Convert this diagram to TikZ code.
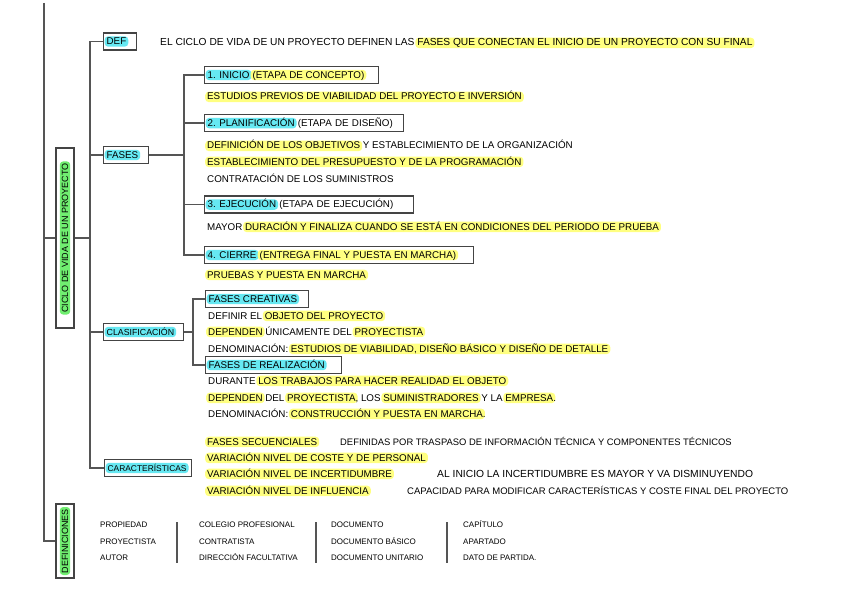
\documentclass[tikz,border=0pt]{standalone}
\usepackage{fontspec}
\setmainfont{Liberation Sans}
\definecolor{hy}{HTML}{FFFF80}
\definecolor{hc}{HTML}{66E8F2}
\definecolor{hg}{HTML}{70EE70}
\definecolor{boxc}{HTML}{444444}
\definecolor{linec}{HTML}{555555}
\newcommand\HiAny[2]{\kern-2pt\relax\tikz[baseline=(hh.base)]\node[fill=#1,draw=none,rounded corners=3.5pt,inner xsep=2pt,inner ysep=1.3pt,text width=,text height=7pt,text depth=0.8pt,minimum width=0pt,minimum height=0pt,anchor=base,outer sep=0pt](hh){#2};\kern-2pt\relax}
\newcommand\HiY[1]{\HiAny{hy}{#1}}
\newcommand\HiC[1]{\HiAny{hc}{#1}}
\newcommand\HiG[1]{\HiAny{hg}{#1}}
\newcommand\mainfs{\fontsize{9.8pt}{11pt}\selectfont}
\newcommand\vertfs{\fontsize{9pt}{11pt}\selectfont}
\tikzset{
  txt/.style={anchor=west, inner sep=0pt, text height=7pt, text depth=1pt, font=\mainfs},
  dtxt/.style={anchor=west, inner sep=0pt, text height=7pt, text depth=1pt, font=\fontsize{8pt}{10pt}\selectfont},
  box/.style={draw=boxc, line width=1.3pt, anchor=west, inner xsep=3pt, inner ysep=0pt, minimum height=17pt, align=left, font=\mainfs, text width=#1},
  vbox/.style={draw=boxc, line width=1.3pt, inner sep=0pt, minimum width=18pt, font=\vertfs, minimum height=#1},
  link/.style={draw=linec, line width=1.2pt},
  sep/.style={draw=linec, line width=1.2pt},
}
\begin{document}
\begin{tikzpicture}[x=1pt,y=-1pt]
\useasboundingbox (0,0) rectangle (848,599);
\fill[white] (0,0) rectangle (848,599);

% trunk coordinates
\coordinate (t1) at (44,3);
\coordinate (t2) at (90,0);
\coordinate (t3) at (184,0);
\coordinate (t4) at (193,0);

% vertical boxes
\node[vbox=180pt] (root) at (65,238) {\rotatebox{90}{\HiG{CICLO DE VIDA DE UN PROYECTO}}};
\node[vbox=74pt] (defs) at (65,541) {\rotatebox{90}{\HiG{DEFINICIONES}}};

% level 2 boxes
\node[box=27pt] (def) at (103,41.5) {\mbox{\HiC{DEF}}};
\node[box=39pt] (fases) at (103,155) {\mbox{\HiC{FASES}}};
\node[box=74pt, font=\fontsize{8.8pt}{11pt}\selectfont] (clas) at (103,332) {\mbox{\HiC{CLASIFICACIÓN}}};
\node[box=81pt, font=\fontsize{8.4pt}{11pt}\selectfont] (car) at (104,468) {\mbox{\HiC{CARACTERÍSTICAS}}};

% phases
\node[box=168pt] (ini) at (204,75) {\mbox{\HiC{1. INICIO} \HiY{(ETAPA DE CONCEPTO)}}};
\node[box=193pt] (pla) at (204,123) {\mbox{\HiC{2. PLANIFICACIÓN} (ETAPA DE DISEÑO)}};
\node[box=203pt] (eje) at (204,204.5) {\mbox{\HiC{3. EJECUCIÓN} (ETAPA DE EJECUCIÓN)}};
\node[box=263pt] (cie) at (204,255) {\mbox{\HiC{4. CIERRE} \HiY{(ENTREGA FINAL Y PUESTA EN MARCHA)}}};

% classification
\node[box=97pt] (fc) at (205,299) {\mbox{\HiC{FASES CREATIVAS}}};
\node[box=130pt] (fr) at (205,365) {\mbox{\HiC{FASES DE REALIZACIÓN}}};

% connectors
\draw[link] (t1) |- (defs.west);
\draw[link] (root.west) -- (root.west -| t1);
\draw[link] (def.west) -- (def.west -| t2) |- (car.west);
\draw[link] (root.east) -- (root.east -| t2);
\draw[link] (fases.west) -- (fases.west -| t2);
\draw[link] (clas.west) -- (clas.west -| t2);
\draw[link] (fases.east) -- (fases.east -| t3);
\draw[link] (ini.west) -- (ini.west -| t3) |- (cie.west);
\draw[link] (pla.west) -- (pla.west -| t3);
\draw[link] (eje.west) -- (eje.west -| t3);
\draw[link] (clas.east) -- (clas.east -| t4);
\draw[link] (fc.west) -- (fc.west -| t4) |- (fr.west);

% texts
\node[txt, font=\fontsize{10.2pt}{11pt}\selectfont] (l1) at (160,43) {EL CICLO DE VIDA DE UN PROYECTO DEFINEN LAS \HiY{FASES QUE CONECTAN EL INICIO DE UN PROYECTO CON SU FINAL}};
\node[txt] (l2) at (207,97) {\HiY{ESTUDIOS PREVIOS DE VIABILIDAD DEL PROYECTO E INVERSIÓN}};
\node[txt] (l3) at (207,146) {\HiY{DEFINICIÓN DE LOS OBJETIVOS} Y ESTABLECIMIENTO DE LA ORGANIZACIÓN};
\node[txt] (l4) at (207,162) {\HiY{ESTABLECIMIENTO DEL PRESUPUESTO Y DE LA PROGRAMACIÓN}};
\node[txt] (l5) at (207,179) {CONTRATACIÓN DE LOS SUMINISTROS};
\node[txt] (l6) at (207,227) {MAYOR \HiY{DURACIÓN Y FINALIZA CUANDO SE ESTÁ EN CONDICIONES DEL PERIODO DE PRUEBA}};
\node[txt] (l7) at (207,275) {\HiY{PRUEBAS Y PUESTA EN MARCHA}};
\node[txt] (l8) at (208,316) {DEFINIR EL \HiY{OBJETO DEL PROYECTO}};
\node[txt] (l9) at (208,332) {\HiY{DEPENDEN} ÚNICAMENTE DEL \HiY{PROYECTISTA}};
\node[txt] (l10) at (208,349) {DENOMINACIÓN: \HiY{ESTUDIOS DE VIABILIDAD, DISEÑO BÁSICO Y DISEÑO DE DETALLE}};
\node[txt] (l11) at (208,381) {DURANTE \HiY{LOS TRABAJOS PARA HACER REALIDAD EL OBJETO}};
\node[txt] (l12) at (208,398) {\HiY{DEPENDEN} DEL \HiY{PROYECTISTA}, LOS \HiY{SUMINISTRADORES} Y LA \HiY{EMPRESA}.};
\node[txt] (l13) at (208,414) {DENOMINACIÓN: \HiY{CONSTRUCCIÓN Y PUESTA EN MARCHA}.};
\node[txt] (l14) at (207,442) {\HiY{FASES SECUENCIALES}};
\node[txt, font=\fontsize{9.4pt}{11pt}\selectfont] (l14b) at (340,442) {DEFINIDAS POR TRASPASO DE INFORMACIÓN TÉCNICA Y COMPONENTES TÉCNICOS};
\node[txt] (l15) at (207,458) {\HiY{VARIACIÓN NIVEL DE COSTE Y DE PERSONAL}};
\node[txt] (l16) at (207,474) {\HiY{VARIACIÓN NIVEL DE INCERTIDUMBRE}};
\node[txt, font=\fontsize{10.3pt}{11pt}\selectfont] (l16b) at (437,474) {AL INICIO LA INCERTIDUMBRE ES MAYOR Y VA DISMINUYENDO};
\node[txt] (l17) at (207,491) {\HiY{VARIACIÓN NIVEL DE INFLUENCIA}};
\node[txt, font=\fontsize{9.5pt}{11pt}\selectfont] (l17b) at (407,491) {CAPACIDAD PARA MODIFICAR CARACTERÍSTICAS Y COSTE FINAL DEL PROYECTO};

% definitions
\node[dtxt] (d11) at (100,524) {PROPIEDAD};
\node[dtxt] (d12) at (100,541) {PROYECTISTA};
\node[dtxt] (d13) at (100,557) {AUTOR};
\node[dtxt] (d21) at (199,524) {COLEGIO PROFESIONAL};
\node[dtxt] (d22) at (199,541) {CONTRATISTA};
\node[dtxt] (d23) at (199,557) {DIRECCIÓN FACULTATIVA};
\node[dtxt] (d31) at (331,524) {DOCUMENTO};
\node[dtxt] (d32) at (331,541) {DOCUMENTO BÁSICO};
\node[dtxt] (d33) at (331,557) {DOCUMENTO UNITARIO};
\node[dtxt] (d41) at (463,524) {CAPÍTULO};
\node[dtxt] (d42) at (463,541) {APARTADO};
\node[dtxt] (d43) at (463,557) {DATO DE PARTIDA.};
\draw[sep] (177,522) -- (177,563);
\draw[sep] (316,522) -- (316,563);
\draw[sep] (447,522) -- (447,563);
\end{tikzpicture}
\end{document}
